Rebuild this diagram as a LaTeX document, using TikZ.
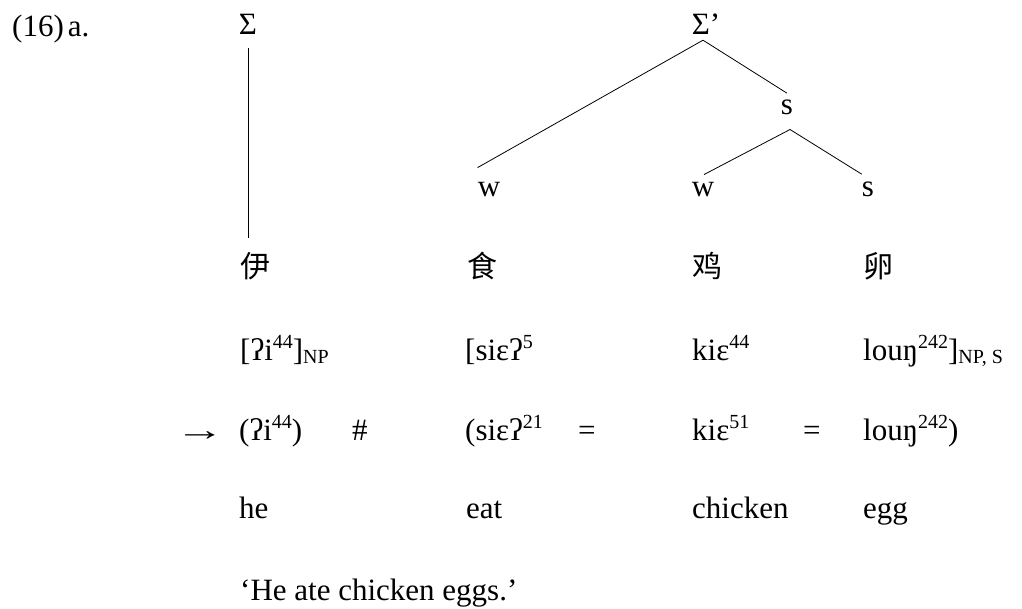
\documentclass[tikz,border=0pt]{standalone}
\usepackage{fontspec}
\setmainfont{Liberation Serif}
\newfontfamily\cjk{Noto Sans CJK SC}
\usetikzlibrary{positioning}
\newcommand{\tonesup}[1]{\raisebox{12pt}{\fontsize{20}{20}\selectfont #1}}
\newcommand{\catsub}[1]{\raisebox{-3pt}{\fontsize{20}{20}\selectfont #1}}

\begin{document}
\begin{tikzpicture}[x=1pt,y=-1pt,
  every node/.style={inner sep=0pt,font=\fontsize{31}{36}\selectfont},
  lbl/.style={anchor=base west},
  tree/.style={anchor=base},
  han/.style={anchor=base west,font=\fontsize{30}{36}\selectfont\cjk},
  branch/.style={line width=0.8pt}]
  \useasboundingbox (0,0) rectangle (1022,609);
  \node[lbl] (exnum) at (12,37) {(16)\hspace{4pt}a.};
  \node[tree] (sig1) at (248,35) {Σ};
  \node[tree] (sig2) at (706,35) {Σ’};
  \node[tree] (sm) at (787,115) {s};
  \node[tree] (w1) at (489,197) {w};
  \node[tree] (w2) at (703,197) {w};
  \node[tree] (s2) at (868,197) {s};
  \node[han] (yi) at (240,278) {伊};
  \node[han] (shi) at (467,278) {食};
  \node[han] (ji) at (692,278) {鸡};
  \node[han] (luan) at (863,278) {卵};
  \node[lbl] (ipa1) at (240,360) {[ʔi\tonesup{44}]\catsub{NP}};
  \node[lbl] (ipa2) at (465,360) {[siɛʔ\tonesup{5}};
  \node[lbl] (ipa3) at (692,360) {kiɛ\tonesup{44}};
  \node[lbl] (ipa4) at (863,360) {louŋ\tonesup{242}]\catsub{NP, S}};
  \node[lbl] (arr) at (175,440) {\scalebox{1.6}[1]{→}};
  \node[lbl] (sur1) at (239,440) {(ʔi\tonesup{44})};
  \node[lbl] (hash) at (352,440) {\#};
  \node[lbl] (sur2) at (465,440) {(siɛʔ\tonesup{21}};
  \node[lbl] (eq1) at (578,440) {=};
  \node[lbl] (sur3) at (692,440) {kiɛ\tonesup{51}};
  \node[lbl] (eq2) at (803,440) {=};
  \node[lbl] (sur4) at (863,440) {louŋ\tonesup{242})};
  \node[lbl] (gl1) at (239,518) {he};
  \node[lbl] (gl2) at (466,518) {eat};
  \node[lbl] (gl3) at (692,518) {chicken};
  \node[lbl] (gl4) at (863,518) {egg};
  \node[lbl] (transl) at (240,600) {‘He ate chicken eggs.’};
  \draw[branch] ([yshift=-13pt]sig1.south) -- ([yshift=15pt]sig1.south |- yi.north);
  \draw[branch] ([shift={(-3,5)}]sig2.south) -- ([shift={(0,-15)}]w1.north west);
  \draw[branch] ([shift={(-3,5)}]sig2.south) -- ([shift={(0,-7)}]sm.north);
  \draw[branch] ([shift={(3,14)}]sm.south) -- ([shift={(1,-8)}]w2.north);
  \draw[branch] ([shift={(3,14)}]sm.south) -- ([shift={(0,-8)}]s2.north west);
\end{tikzpicture}
\end{document}
